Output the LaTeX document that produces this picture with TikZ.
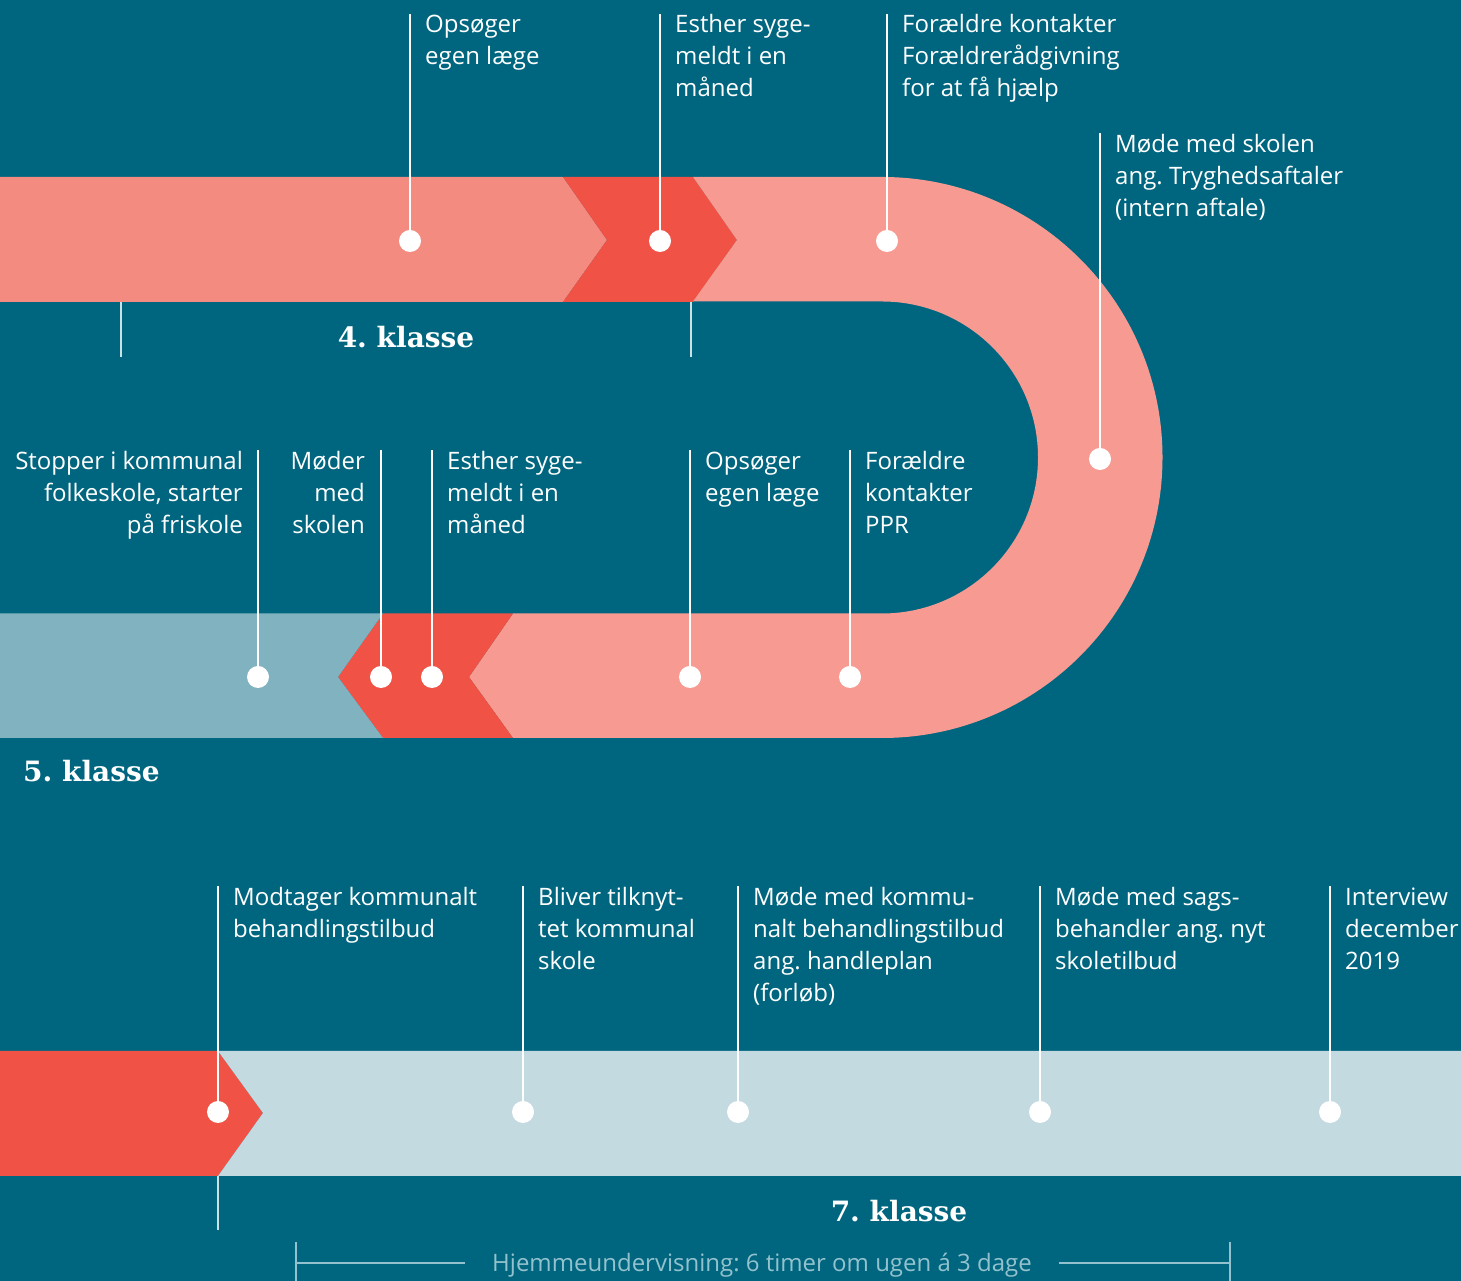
\documentclass[tikz,border=0pt]{standalone}
\usepackage{fontspec}
\setmainfont{Open Sans}
\newfontfamily\headfont{DejaVu Serif}
\frenchspacing
\definecolor{bgc}{HTML}{00667F}
\definecolor{salmonc}{HTML}{F48B81}
\definecolor{redc}{HTML}{F05346}
\definecolor{pinkc}{HTML}{F79B92}
\definecolor{greyblue}{HTML}{80B2BF}
\definecolor{lightblue}{HTML}{C2DAE0}
\definecolor{tickc}{HTML}{C9E2E8}
\definecolor{brackc}{HTML}{93C2CE}
\newcommand\lblfont{\fontsize{24}{32}\selectfont}
\newcommand\lstrut{\rule{0pt}{24pt}}
\begin{document}
\begin{tikzpicture}[x=1pt,y=1pt,
  lbl/.style={inner sep=0pt, align=left, anchor=north west, text=white, font=\lblfont},
  lblr/.style={inner sep=0pt, align=right, anchor=north east, text=white, font=\lblfont},
  dot/.style={circle, fill=white, inner sep=0pt, minimum size=22pt},
  conn/.style={draw=white, line width=1.5pt},
  tickline/.style={draw=tickc, line width=1.5pt},
  head/.style={inner sep=0pt, anchor=base, text=white, font=\headfont\bfseries\fontsize{28}{34}\selectfont},
  brack/.style={draw=brackc, line width=1.2pt}]
\fill[bgc] (0,0) rectangle (1461,1281);
\useasboundingbox (0,0) rectangle (1461,1281);

% ---- bands ----
\fill[salmonc] (0,1104) -- (563,1104) -- (607,1041) -- (563,979) -- (0,979) -- cycle;
\fill[redc] (563,1104) -- (693,1104) -- (737,1041) -- (693,979) -- (563,979) -- (607,1041) -- cycle;
\fill[pinkc] (693,1104) -- (882,1104) arc (90:-90:280.5) -- (513,543) -- (469,604) -- (513,667.5)
  -- (882,667.5) arc (-90:90:156) -- (693,979.5) -- (737,1041) -- cycle;
\fill[redc] (513,667.5) -- (383,667.5) -- (338,604) -- (383,543) -- (513,543) -- (469,604) -- cycle;
\fill[greyblue] (0,667.5) -- (383,667.5) -- (338,604) -- (383,543) -- (0,543) -- cycle;
\fill[redc] (0,230) -- (218,230) -- (263,168) -- (218,105) -- (0,105) -- cycle;
\fill[lightblue] (218,230) -- (1461,230) -- (1461,105) -- (218,105) -- (263,168) -- cycle;

% ---- ticks ----
\coordinate (t1a) at (121,979); \coordinate (t1b) at (121,924);
\coordinate (t2a) at (691,979); \coordinate (t2b) at (691,924);
\coordinate (t3a) at (218,105); \coordinate (t3b) at (218,51);
\draw[tickline] (t1a) -- (t1b);
\draw[tickline] (t2a) -- (t2b);
\draw[tickline] (t3a) -- (t3b);

% ---- headings ----
\node[head] (h4) at (406,933) {4. klasse};
\node[head, anchor=base west] (h5) at (23,499) {5. klasse};
\node[head] (h7) at (899,59) {7. klasse};

% ---- dots ----
\node[dot] (a1) at (410,1040) {};
\node[dot] (a2) at (660,1040) {};
\node[dot] (a3) at (887,1040) {};
\node[dot] (a4) at (1100,822) {};
\node[dot] (b1) at (258,604) {};
\node[dot] (b2) at (381,604) {};
\node[dot] (b3) at (432,604) {};
\node[dot] (b4) at (690,604) {};
\node[dot] (b5) at (850,604) {};
\node[dot] (c1) at (218,169) {};
\node[dot] (c2) at (523,169) {};
\node[dot] (c3) at (738,169) {};
\node[dot] (c4) at (1040,169) {};
\node[dot] (c5) at (1330,169) {};

% ---- line tops ----
\coordinate (a1t) at (410,1267);
\coordinate (a2t) at (660,1267);
\coordinate (a3t) at (887,1267);
\coordinate (a4t) at (1100,1148);
\coordinate (b1t) at (258,831);
\coordinate (b2t) at (381,831);
\coordinate (b3t) at (432,831);
\coordinate (b4t) at (690,831);
\coordinate (b5t) at (850,831);
\coordinate (c1t) at (218,395);
\coordinate (c2t) at (523,395);
\coordinate (c3t) at (738,395);
\coordinate (c4t) at (1040,395);
\coordinate (c5t) at (1330,395);

\foreach \n in {a1,a2,a3,a4,b1,b2,b3,b4,b5,c1,c2,c3,c4,c5}
  \draw[conn] (\n t) -- (\n);

% ---- labels ----
\node[lbl] (la1) at (425,1273) {\lstrut Opsøger\\egen læge};
\node[lbl] (la2) at (675,1273) {\lstrut Esther syge-\\meldt i en\\måned};
\node[lbl] (la3) at (902,1273) {\lstrut Forældre kontakter\\Forældrerådgivning\\for at få hjælp};
\node[lbl] (la4) at (1115,1153) {\lstrut Møde med skolen\\ang. Tryghedsaftaler\\(intern aftale)};

\node[lblr] (lb1) at (243,836) {\lstrut Stopper i kommunal\\folkeskole, starter\\på friskole};
\node[lblr] (lb2) at (365,836) {\lstrut Møder\\med\\skolen};
\node[lbl] (lb3) at (447,836) {\lstrut Esther syge-\\meldt i en\\måned};
\node[lbl] (lb4) at (705,836) {\lstrut Opsøger\\egen læge};
\node[lbl] (lb5) at (865,836) {\lstrut Forældre\\kontakter\\PPR};

\node[lbl] (lc1) at (233,400) {\lstrut Modtager kommunalt\\behandlingstilbud};
\node[lbl] (lc2) at (538,400) {\lstrut Bliver tilknyt-\\tet kommunal\\skole};
\node[lbl] (lc3) at (753,400) {\lstrut Møde med kommu-\\nalt behandlingstilbud\\ang. handleplan\\(forløb)};
\node[lbl] (lc4) at (1055,400) {\lstrut Møde med sags-\\behandler ang. nyt\\skoletilbud};
\node[lbl] (lc5) at (1345,400) {\lstrut Interview\\december\\2019};

% ---- bracket ----
\node[inner xsep=27pt, inner ysep=0pt, anchor=base, text=brackc, font=\lblfont] (hj) at (762,9) {Hjemmeundervisning: 6 timer om ugen á 3 dage};
\coordinate (bl) at (296,18);
\coordinate (br) at (1230,18);
\coordinate (blt) at (296,39); \coordinate (blb) at (296,0);
\coordinate (brt) at (1230,39); \coordinate (brb) at (1230,0);
\draw[brack] (blt) -- (blb);
\draw[brack] (brt) -- (brb);
\draw[brack] (bl) -- (bl -| hj.west);
\draw[brack] (br) -- (br -| hj.east);
\end{tikzpicture}
\end{document}
